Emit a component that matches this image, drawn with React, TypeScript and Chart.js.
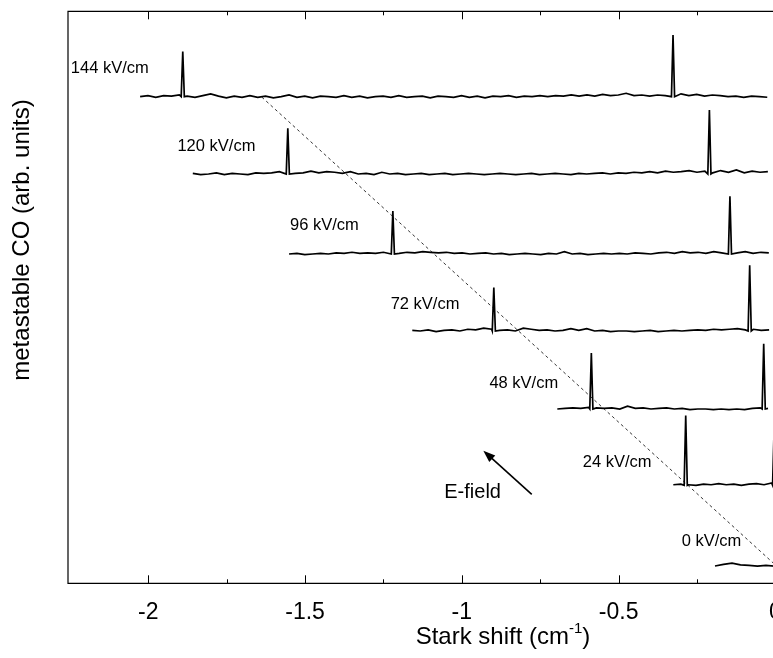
import { useEffect, useRef } from "react";
import { Chart, registerables } from "chart.js";
Chart.register(...registerables);

// ---- data (x: Stark shift in cm^-1, y: arbitrary units with vertical offsets) ----
const fieldLabels = ["144 kV/cm", "120 kV/cm", "96 kV/cm", "72 kV/cm", "48 kV/cm", "24 kV/cm", "0 kV/cm"];
const baselines = [85.07, 71.56, 57.57, 44.11, 30.47, 17.13, 3.02];
const traceStart = [-2.026, -1.858, -1.551, -1.158, -0.6955, -0.3256, -0.1926];
const traceEnd = [-0.026, -0.024, -0.021, -0.02, -0.0236, -0.012, -0.003];
const peakX1 = [-1.89, -1.555, -1.22, -0.898, -0.587, -0.286, 0.0];
const peakH1 = [7.9, 8.0, 7.5, 7.6, 9.8, 12.2, 9.0];
const peakX2 = [-0.3265, -0.2105, -0.145, -0.082, -0.0373, -0.004, null];
const peakH2 = [10.8, 11.2, 10.1, 11.5, 11.4, 10.0, null];

const noise144 = [
  0, 0.2, -0.1, 0.2, 0.1, 0.3,
  0.1, -0.1, 0.2, 0.5, 0.1, -0.2, 0.1, -0.1, 0.2, -0.1,
  0.1, -0.2, 0.0, 0.3, -0.1, 0.1, -0.2, 0.1, 0.0, -0.1,
  0.2, -0.1, 0.1, -0.2, 0.0, 0.1, -0.1, 0.2, -0.1, 0.0,
  0.1, -0.2, 0.1, 0.0, -0.1, 0.2, -0.1, 0.1, -0.2, 0.1,
  0.0, 0.2, -0.1, 0.1, 0.0, 0.2, 0.0, 0.2, 0.1, 0.3,
  0.1, 0.3, 0.1, 0.4, 0.2, 0.3, 0.6, 0.2, 0.3, 0.1,
  0.3, 0.2, 0.1, 0.5, 0.2, 0.4, 0.1, 0.3, 0.2, 0.0,
  0.1, -0.1, 0.1, 0.0, -0.1,
];
const noise120 = [
  0.1, -0.1, 0.0, 0.2, -0.1, 0.1, 0.0, -0.1, 0.2, 0.1,
  0.2, 0.4, 0.3, 0.1, 0.2, 0.5, 0.2, 0.4, 0.3, 0.1,
  0.4, 0.0, 0.1, -0.1, 0.3, 0.0, 0.1, -0.1, 0.0, 0.1,
  -0.1, 0.0, 0.1, -0.1, 0.0, 0.1, 0.0, -0.1, 0.0, 0.1,
  0.0, -0.1, 0.0, 0.1, -0.1, 0.0, 0.1, 0.0, -0.1, 0.1,
  0.0, 0.1, 0.2, 0.0, 0.2, 0.1, 0.3, 0.2, 0.4, 0.2,
  0.5, 0.3, 0.4, 0.6, 0.3, 0.5, 0.2, 0.6, 0.3, 0.7,
  0.2, 0.5, 0.3, 0.4,
];
const noise96 = [
  0.0, 0.1, -0.1, 0.0, 0.1, 0.0, 0.2, 0.1, 0.3, 0.1,
  0.2, 0.1, 0.3, 0.2, 0.1, 0.3, 0.2, 0.4, 0.3, 0.2,
  0.3, 0.1, 0.2, 0.0, 0.1, 0.2, 0.0, 0.1, -0.1, 0.0,
  0.1, 0.0, -0.1, 0.1, 0.0, 0.4, 0.0, 0.1, -0.1, 0.0,
  0.1, 0.0, 0.1, 0.0, 0.2, 0.1, 0.0, 0.2, 0.3, 0.1,
  0.4, 0.2, 0.3, 0.1, 0.4, 0.2, 0.3, 0.2, 0.4, 0.1,
  0.3, 0.2,
];
const noise72 = [
  0.1, 0.0, 0.2, -0.1, 0.1, 0.2, 0.0, 0.3, 0.2, 0.5,
  0.3, 0.1, 0.2, 0.0, 0.5, 0.3, 0.1, 0.2, 0.0, 0.1,
  0.4, 0.1, 0.4, 0.0, 0.1, -0.1, 0.0, 0.0, -0.1, 0.0,
  0.1, -0.1, 0.0, 0.1, 0.0, 0.1, 0.2, 0.1, 0.3, 0.2,
  0.3, 0.4, 0.2, 0.3, 0.1, 0.2,
];
const noise48 = [
  0.0, 0.1, 0.2, 0.1, 0.3, 0.2, 0.1, 0.2, 0.0, 0.5,
  0.1, 0.2, 0.0, 0.1, 0.2, 0.0, 0.1, -0.1, 0.0, 0.0,
  -0.1, 0.0, -0.1, 0.0, -0.1, 0.1, 0.2, 0.1,
];
const noise24 = [0.1, 0.2, 0.1, 0.0, 0.2, 0.1, 0.3, 0.1, 0.2, 0.0, 0.2, 0.3, 0.1, 0.4];
const noise0 = [0.0, 0.3, 0.5, 0.2, 0.1, 0.0, 0.1, 0.2];
const noiseSets = [noise144, noise120, noise96, noise72, noise48, noise24, noise0];

// guide line (linear Stark shift) and annotations
const fitX = [-1.638, 0];
const fitY = [85.0, 3.2];
const labelX = [-2.247, -1.907, -1.548, -1.227, -0.912, -0.6145, -0.2988];
const labelY = [90.03, 76.33, 62.52, 48.78, 34.97, 21.08, 7.27];
const arrowTail = [-0.777, 15.56];
const arrowHead = [-0.9314, 23.18];
const arrowText = "E-field";
const arrowTextPos = [-0.9656, 15.9];
const xTicks = [-2, -1.75, -1.5, -1.25, -1, -0.75, -0.5, -0.25, 0];
const xTitle = "Stark shift (cm";
const xTitleSup = "-1";
const yTitle = "metastable CO (arb. units)";

const FONT = "'Liberation Sans', Arial, Helvetica, sans-serif";

function buildTrace(t: number) {
  const noise = noiseSets[t];
  const n = noise.length;
  const base = baselines[t];
  const s = traceStart[t];
  const e = traceEnd[t];
  const peaks: [number, number][] = [[peakX1[t], peakH1[t]]];
  if (peakX2[t] !== null) peaks.push([peakX2[t] as number, peakH2[t] as number]);
  let pts = noise.map((v, i) => ({ x: s + (i * (e - s)) / (n - 1), y: base + v }));
  pts = pts.filter((p) => peaks.every(([px]) => Math.abs(p.x - px) > 0.007));
  peaks.forEach(([px, h]) => {
    pts.push({ x: px - 0.005, y: base });
    pts.push({ x: px, y: base + h });
    pts.push({ x: px + 0.005, y: base });
  });
  pts.sort((a, b) => a.x - b.x);
  return pts;
}

const decor = {
  id: "decor",
  afterDraw(chart: any) {
    const { ctx, chartArea: ca, scales } = chart;
    const xs = scales.x;
    const ys = scales.y;
    ctx.save();
    ctx.strokeStyle = "#000";
    ctx.fillStyle = "#000";
    ctx.lineWidth = 1.2;
    // frame
    ctx.beginPath();
    ctx.moveTo(ca.right + 5, ca.top);
    ctx.lineTo(ca.left, ca.top);
    ctx.lineTo(ca.left, ca.bottom);
    ctx.lineTo(ca.right + 5, ca.bottom);
    ctx.stroke();
    // inward ticks, top and bottom
    ctx.lineWidth = 1;
    xTicks.forEach((v) => {
      const px = Math.round(xs.getPixelForValue(v)) + 0.5;
      const major = Math.abs(v * 2 - Math.round(v * 2)) < 1e-6;
      const len = major ? 8 : 4;
      ctx.beginPath();
      ctx.moveTo(px, ca.bottom);
      ctx.lineTo(px, ca.bottom - len);
      ctx.moveTo(px, ca.top);
      ctx.lineTo(px, ca.top + len);
      ctx.stroke();
    });
    // field labels
    ctx.font = `16.5px ${FONT}`;
    ctx.textAlign = "left";
    ctx.textBaseline = "middle";
    fieldLabels.forEach((lab, i) => {
      ctx.fillText(lab, xs.getPixelForValue(labelX[i]), ys.getPixelForValue(labelY[i]));
    });
    // arrow
    const tx = xs.getPixelForValue(arrowTail[0]);
    const ty = ys.getPixelForValue(arrowTail[1]);
    const hx = xs.getPixelForValue(arrowHead[0]);
    const hy = ys.getPixelForValue(arrowHead[1]);
    const ang = Math.atan2(hy - ty, hx - tx);
    const L = 12;
    const W = 4.5;
    ctx.lineWidth = 1.6;
    ctx.beginPath();
    ctx.moveTo(tx, ty);
    ctx.lineTo(hx - Math.cos(ang) * (L - 2), hy - Math.sin(ang) * (L - 2));
    ctx.stroke();
    ctx.beginPath();
    ctx.moveTo(hx, hy);
    ctx.lineTo(hx - Math.cos(ang) * L - Math.sin(ang) * W, hy - Math.sin(ang) * L + Math.cos(ang) * W);
    ctx.lineTo(hx - Math.cos(ang) * L + Math.sin(ang) * W, hy - Math.sin(ang) * L - Math.cos(ang) * W);
    ctx.closePath();
    ctx.fill();
    ctx.font = `20px ${FONT}`;
    ctx.textAlign = "center";
    ctx.fillText(arrowText, xs.getPixelForValue(arrowTextPos[0]), ys.getPixelForValue(arrowTextPos[1]));
    // x title with superscript
    ctx.textBaseline = "alphabetic";
    ctx.textAlign = "left";
    ctx.font = `24px ${FONT}`;
    const w1 = ctx.measureText(xTitle).width;
    ctx.font = `15px ${FONT}`;
    const w2 = ctx.measureText(xTitleSup).width;
    ctx.font = `24px ${FONT}`;
    const w3 = ctx.measureText(")").width;
    const total = w1 + w2 + w3;
    const cx = 495;
    const by = 636;
    const x0 = cx - total / 2;
    ctx.fillText(xTitle, x0, by);
    ctx.font = `15px ${FONT}`;
    ctx.fillText(xTitleSup, x0 + w1, by - 11);
    ctx.font = `24px ${FONT}`;
    ctx.fillText(")", x0 + w1 + w2, by);
    // y title
    ctx.save();
    ctx.translate(14, 232);
    ctx.rotate(-Math.PI / 2);
    ctx.textAlign = "center";
    ctx.textBaseline = "middle";
    ctx.font = `24px ${FONT}`;
    ctx.fillText(yTitle, 0, 0);
    ctx.restore();
    ctx.restore();
  },
};

export default function App() {
  const ref = useRef<HTMLCanvasElement | null>(null);
  useEffect(() => {
    if (!ref.current) return;
    const datasets: any[] = fieldLabels.map((lab, t) => ({
      label: lab,
      data: buildTrace(t),
      borderColor: "#000",
      borderWidth: 1.7,
      pointRadius: 0,
      tension: 0,
      fill: false,
    }));
    datasets.push({
      label: "fit",
      data: fitX.map((x, i) => ({ x, y: fitY[i] })),
      borderColor: "#000",
      borderWidth: 0.8,
      borderDash: [3, 3],
      pointRadius: 0,
      fill: false,
    });
    const chart = new Chart(ref.current, {
      type: "line",
      data: { datasets },
      options: {
        responsive: false,
        animation: false,
        devicePixelRatio: 1,
        layout: { padding: { left: 60, top: 3.3, right: 32.6, bottom: 0 } },
        plugins: { legend: { display: false }, tooltip: { enabled: false } },
        scales: {
          x: {
            type: "linear",
            min: -2.256,
            max: 0,
            grid: { display: false },
            border: { display: false },
            ticks: {
              stepSize: 0.5,
              includeBounds: false,
              color: "#000",
              padding: 8,
              maxRotation: 0,
              font: { family: FONT, size: 23 },
              callback: (v: any) => String(Math.round(Number(v) * 100) / 100),
            },
            afterFit: (s: any) => {
              s.height = 66.7;
            },
          },
          y: { type: "linear", min: 0, max: 100, display: false },
        },
      },
      plugins: [decor],
    });
    return () => chart.destroy();
  }, []);
  return (
    <div
      style={{
        position: "fixed",
        left: 0,
        top: 0,
        width: "100vw",
        height: "100vh",
        overflow: "hidden",
        background: "#fff",
      }}
    >
      <canvas
        ref={ref}
        width={800}
        height={642}
        style={{ display: "block", position: "absolute", left: 8, top: 8 }}
      />
    </div>
  );
}
